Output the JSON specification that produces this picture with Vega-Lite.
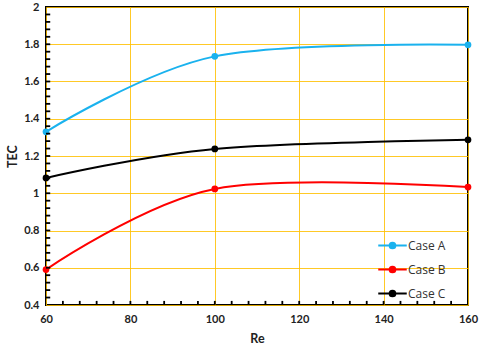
{
  "$schema": "https://vega.github.io/schema/vega-lite/v6.json",
  "width": 422,
  "height": 298,
  "autosize": "none",
  "padding": {"left": 46, "top": 7, "right": 12, "bottom": 42},
  "background": "white",
  "config": {
    "view": {"stroke": "black", "strokeWidth": 2},
    "font": "Lato",
    "axisX": {
      "title": "Re",
      "titleFont": "Lato", "titleFontSize": 12.5, "titleFontWeight": "bold", "titleColor": "#222", "titlePadding": 8,
      "labelFlush": false,
      "labelFont": "Lato", "labelFontSize": 11, "labelFontWeight": "bold", "labelColor": "#222",
      "labelPadding": 8,
      "domain": false,
      "ticks": false,
      "zindex": 0,
      "grid": true, "gridColor": "#FFC000", "gridOpacity": 0.85, "gridWidth": 1
    },
    "axisY": {
      "titleFont": "Lato", "titleFontSize": 12.5, "titleFontWeight": "bold", "titleColor": "#222", "titlePadding": 4,
      "labelFlush": false,
      "labelFont": "Lato", "labelFontSize": 11, "labelFontWeight": "bold", "labelColor": "#222",
      "labelPadding": 7,
      "domain": false,
      "ticks": false,
      "zindex": 0,
      "grid": true, "gridColor": "#FFC000", "gridOpacity": 0.85, "gridWidth": 1
    }
  },
  "layer": [
    {
      "data": {
        "values": [
          {"series": "Case A", "Re": 60, "TEC": 1.33},
          {"series": "Case A", "Re": 100, "TEC": 1.735},
          {"series": "Case A", "Re": 160, "TEC": 1.797},
          {"series": "Case B", "Re": 60, "TEC": 0.59},
          {"series": "Case B", "Re": 100, "TEC": 1.023},
          {"series": "Case B", "Re": 160, "TEC": 1.033},
          {"series": "Case C", "Re": 60, "TEC": 1.082},
          {"series": "Case C", "Re": 100, "TEC": 1.238},
          {"series": "Case C", "Re": 160, "TEC": 1.287}
        ]
      },
      "mark": {"type": "line", "interpolate": "cardinal", "strokeWidth": 2, "point": {"filled": true, "size": 45}},
      "encoding": {
        "x": {
          "field": "Re", "type": "quantitative",
          "scale": {"domain": [60, 160], "nice": false, "zero": false},
          "axis": {"title": "Re", "values": [60, 80, 100, 120, 140, 160], "format": "d"}
        },
        "y": {
          "field": "TEC", "type": "quantitative",
          "scale": {"domain": [0.4, 2], "nice": false, "zero": false},
          "axis": {"title": "TEC", "values": [0.4, 0.6, 0.8, 1, 1.2, 1.4, 1.6, 1.8, 2], "format": "~g"}
        },
        "color": {
          "field": "series", "type": "nominal",
          "scale": {"domain": ["Case A", "Case B", "Case C"], "range": ["#1AB2EE", "#FF0000", "#000000"]},
          "legend": {
            "title": null,
            "orient": "none",
            "legendX": 336,
            "legendY": 228,
            "symbolType": "M-1.5,0H1.5M-0.3,0A0.3,0.3 0 1,0 0.3,0A0.3,0.3 0 1,0 -0.3,0",
            "symbolSize": 361,
            "symbolStrokeWidth": 2,
            "labelFont": "Open Sans", "labelFontSize": 12, "labelColor": "#333",
            "rowPadding": 6,
            "labelOffset": 5
          }
        }
      }
    },
    {
      "data": {
        "values": [
          {"Re": 64}, {"Re": 68}, {"Re": 72}, {"Re": 76}, {"Re": 80}, {"Re": 84}, {"Re": 88}, {"Re": 92}, {"Re": 96}, {"Re": 100},
          {"Re": 104}, {"Re": 108}, {"Re": 112}, {"Re": 116}, {"Re": 120}, {"Re": 124}, {"Re": 128}, {"Re": 132}, {"Re": 136}, {"Re": 140},
          {"Re": 144}, {"Re": 148}, {"Re": 152}, {"Re": 156}
        ]
      },
      "mark": {"type": "rule", "color": "black", "strokeWidth": 1.8},
      "encoding": {
        "x": {"field": "Re", "type": "quantitative", "axis": {"title": "Re", "values": [60, 80, 100, 120, 140, 160], "format": "d"}},
        "y": {"datum": 0.4, "type": "quantitative", "axis": {"title": "TEC", "values": [0.4, 0.6, 0.8, 1, 1.2, 1.4, 1.6, 1.8, 2], "format": "~g"}},
        "y2": {"datum": 0.422}
      }
    },
    {
      "data": {
        "values": [
          {"TEC": 0.44}, {"TEC": 0.48}, {"TEC": 0.52}, {"TEC": 0.56}, {"TEC": 0.6}, {"TEC": 0.64}, {"TEC": 0.68}, {"TEC": 0.72}, {"TEC": 0.76}, {"TEC": 0.8},
          {"TEC": 0.84}, {"TEC": 0.88}, {"TEC": 0.92}, {"TEC": 0.96}, {"TEC": 1}, {"TEC": 1.04}, {"TEC": 1.08}, {"TEC": 1.12}, {"TEC": 1.16}, {"TEC": 1.2},
          {"TEC": 1.24}, {"TEC": 1.28}, {"TEC": 1.32}, {"TEC": 1.36}, {"TEC": 1.4}, {"TEC": 1.44}, {"TEC": 1.48}, {"TEC": 1.52}, {"TEC": 1.56}, {"TEC": 1.6},
          {"TEC": 1.64}, {"TEC": 1.68}, {"TEC": 1.72}, {"TEC": 1.76}, {"TEC": 1.8}, {"TEC": 1.84}, {"TEC": 1.88}, {"TEC": 1.92}, {"TEC": 1.96}
        ]
      },
      "mark": {"type": "rule", "color": "black", "strokeWidth": 1.8},
      "encoding": {
        "y": {"field": "TEC", "type": "quantitative", "axis": {"title": "TEC", "values": [0.4, 0.6, 0.8, 1, 1.2, 1.4, 1.6, 1.8, 2], "format": "~g"}},
        "x": {"datum": 60, "type": "quantitative", "axis": {"title": "Re", "values": [60, 80, 100, 120, 140, 160], "format": "d"}},
        "x2": {"datum": 61}
      }
    }
  ]
}
